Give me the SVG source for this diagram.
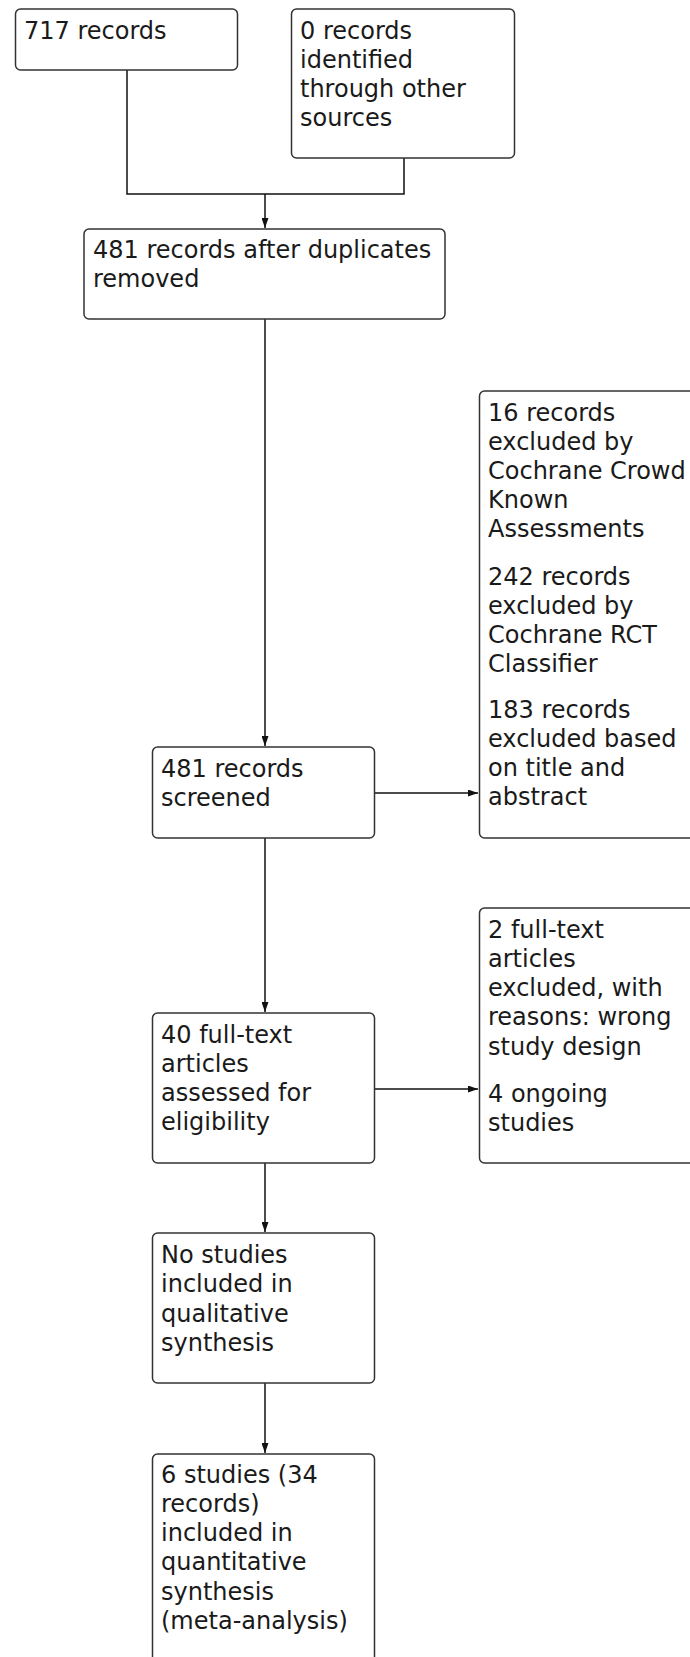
<svg xmlns="http://www.w3.org/2000/svg" width="690" height="1657" viewBox="0 0 690 1657">
<style>
.box{fill:#fff;stroke:#333;stroke-width:1.5}
.t{font-family:"DejaVu Sans",Verdana,sans-serif;font-size:24px;fill:#1a1a1a}
.c{fill:none;stroke:#111;stroke-width:1.5}
</style>
<defs>
<marker id="ah" markerUnits="userSpaceOnUse" markerWidth="10" markerHeight="7" refX="10" refY="3.5" orient="auto">
<path d="M0,0 L10,3.5 L0,7 z" fill="#111"/>
</marker>
</defs>
<rect width="690" height="1657" fill="#fff"/>
<g id="connectors">
<path class="c" d="M127,70 V194 H404 V158"/>
<path class="c" d="M265,194 V228" marker-end="url(#ah)"/>
<path class="c" d="M265,319 V746" marker-end="url(#ah)"/>
<path class="c" d="M375,793 H478" marker-end="url(#ah)"/>
<path class="c" d="M265,838 V1012" marker-end="url(#ah)"/>
<path class="c" d="M375,1089 H478" marker-end="url(#ah)"/>
<path class="c" d="M265,1163 V1232" marker-end="url(#ah)"/>
<path class="c" d="M265,1383 V1453" marker-end="url(#ah)"/>
</g>
<g id="n717">
<rect class="box" x="15.5" y="9" width="222" height="61" rx="5"/>
<text class="t" x="24" y="39">717 records</text>
</g>
<g id="nother">
<rect class="box" x="291.5" y="9" width="223" height="149" rx="5"/>
<text class="t"><tspan x="300" y="39">0 records</tspan><tspan x="300" y="68">identified</tspan><tspan x="300" y="97">through other</tspan><tspan x="300" y="126">sources</tspan></text>
</g>
<g id="ndup">
<rect class="box" x="84" y="229" width="361" height="90" rx="5"/>
<text class="t"><tspan x="93" y="258">481 records after duplicates</tspan><tspan x="93" y="287">removed</tspan></text>
</g>
<g id="nscreened">
<rect class="box" x="152.5" y="747" width="222" height="91" rx="5"/>
<text class="t"><tspan x="161" y="777">481 records</tspan><tspan x="161" y="806">screened</tspan></text>
</g>
<g id="nexcl1">
<rect class="box" x="479.5" y="391" width="240" height="447" rx="5"/>
<text class="t"><tspan x="488" y="421">16 records</tspan><tspan x="488" y="450">excluded by</tspan><tspan x="488" y="479">Cochrane Crowd</tspan><tspan x="488" y="508">Known</tspan><tspan x="488" y="537">Assessments</tspan><tspan x="488" y="585">242 records</tspan><tspan x="488" y="614">excluded by</tspan><tspan x="488" y="643">Cochrane RCT</tspan><tspan x="488" y="672">Classifier</tspan><tspan x="488" y="718">183 records</tspan><tspan x="488" y="747">excluded based</tspan><tspan x="488" y="776">on title and</tspan><tspan x="488" y="805">abstract</tspan></text>
</g>
<g id="nfulltext">
<rect class="box" x="152.5" y="1013" width="222" height="150" rx="5"/>
<text class="t"><tspan x="161" y="1043">40 full-text</tspan><tspan x="161" y="1072">articles</tspan><tspan x="161" y="1101">assessed for</tspan><tspan x="161" y="1130">eligibility</tspan></text>
</g>
<g id="nexcl2">
<rect class="box" x="479.5" y="908" width="240" height="255" rx="5"/>
<text class="t"><tspan x="488" y="938">2 full-text</tspan><tspan x="488" y="967">articles</tspan><tspan x="488" y="996">excluded, with</tspan><tspan x="488" y="1025">reasons: wrong</tspan><tspan x="488" y="1055">study design</tspan><tspan x="488" y="1102">4 ongoing</tspan><tspan x="488" y="1131">studies</tspan></text>
</g>
<g id="nqual">
<rect class="box" x="152.5" y="1233" width="222" height="150" rx="5"/>
<text class="t"><tspan x="161" y="1263">No studies</tspan><tspan x="161" y="1292">included in</tspan><tspan x="161" y="1322">qualitative</tspan><tspan x="161" y="1351">synthesis</tspan></text>
</g>
<g id="nquant">
<rect class="box" x="152.5" y="1454" width="222" height="230" rx="5"/>
<text class="t"><tspan x="161" y="1483">6 studies (34</tspan><tspan x="161" y="1512">records)</tspan><tspan x="161" y="1541">included in</tspan><tspan x="161" y="1570">quantitative</tspan><tspan x="161" y="1600">synthesis</tspan><tspan x="161" y="1629">(meta-analysis)</tspan></text>
</g>
</svg>
